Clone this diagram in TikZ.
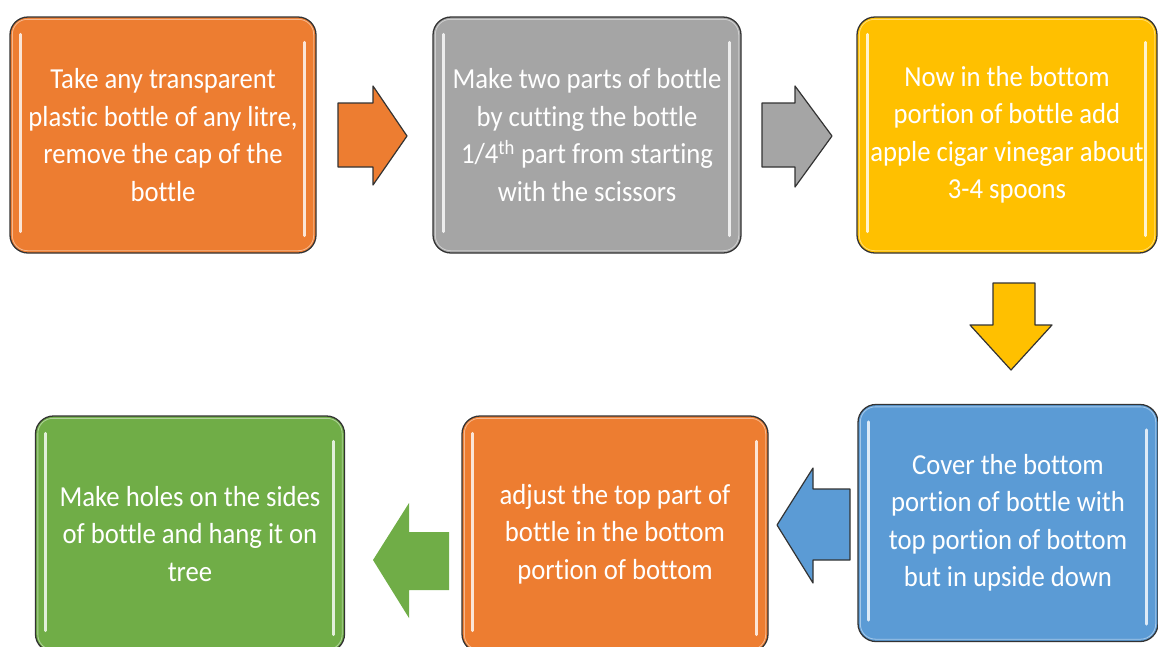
\documentclass[tikz,border=0pt]{standalone}
\usepackage{fontspec}
\setmainfont{Carlito}[FakeStretch=0.92,Ligatures=NoCommon]
\usetikzlibrary{positioning}
\definecolor{orng}{HTML}{ED7D31}
\definecolor{gry}{HTML}{A5A5A5}
\definecolor{ylw}{HTML}{FFC000}
\definecolor{blu}{HTML}{5B9BD5}
\definecolor{grn}{HTML}{70AD47}

\begin{document}
\begin{tikzpicture}[x=1pt, y=-1pt, box/.style={draw=black!80, line width=1.3pt, rounded corners=18pt, minimum width=306pt, minimum height=236pt, inner sep=0pt, align=center, text=white, font=\fontsize{29}{37.5}\selectfont}, blk/.style={draw=black!80, line width=1.2pt, line join=round}, stripe/.style={line width=3pt, line cap=round}]
\useasboundingbox (0,0) rectangle (1158,646);
% top row
\node[box,fill=orng] (take) at (163,135) {Take any transparent\\plastic bottle of any litre,\\remove the cap of the\\bottle};
\node[box,fill=gry,minimum width=308pt] (cut) at (587,135) {Make two parts of bottle\\by cutting the bottle\\1/4\textsuperscript{th} part from starting\\with the scissors};
\node[box,fill=ylw,minimum width=300pt] (vinegar) at (1007,135) {Now in the bottom\\portion of bottle add\\apple cigar vinegar about\\3-4 spoons};
% bottom row
\node[box,fill=blu,minimum width=300pt,minimum height=237pt] (cover) at (1008,523) {Cover the bottom\\portion of bottle with\\top portion of bottom\\but in upside down};
\node[box,fill=orng] (adjust) at (615,534) {adjust the top part of\\bottle in the bottom\\portion of bottom};
\node[box,fill=grn,minimum width=309pt] (hang) at (190,534) {Make holes on the sides\\of bottle and hang it on\\tree};
% glossy rims and stripes
\foreach \b/\c in {take/orng,cut/gry,vinegar/ylw,cover/blu,adjust/orng,hang/grn}{
  \draw[\c!55!white, line width=0.8pt, rounded corners=15pt] ([shift={(3pt,-3pt)}]\b.north west) rectangle ([shift={(-3pt,3pt)}]\b.south east);
  \draw[stripe,\c!20!white] ([shift={(11pt,-18pt)}]\b.north west) -- ([shift={(11pt,22pt)}]\b.south west);
  \draw[stripe,\c!20!white] ([shift={(-12pt,-26pt)}]\b.north east) -- ([shift={(-12pt,18pt)}]\b.south east);
}
% block arrows
\draw[blk,fill=orng] (338,103)--(373,103)--(373,86)--(407,136)--(373,185)--(373,167)--(338,167)--cycle;
\draw[blk,fill=gry] (762,103)--(795,103)--(795,86)--(832,136)--(795,187)--(795,167)--(762,167)--cycle;
\draw[blk,fill=ylw] (993,283)--(1035,283)--(1035,325)--(1052,325)--(1011,370)--(970,325)--(993,325)--cycle;
\draw[blk,fill=blu] (850,489)--(813,489)--(813,468)--(777,525)--(813,583)--(813,560)--(850,560)--cycle;
\fill[grn] (449,532)--(409,532)--(409,503)--(373,560)--(409,618)--(409,590)--(449,590)--cycle;
\end{tikzpicture}
\end{document}
